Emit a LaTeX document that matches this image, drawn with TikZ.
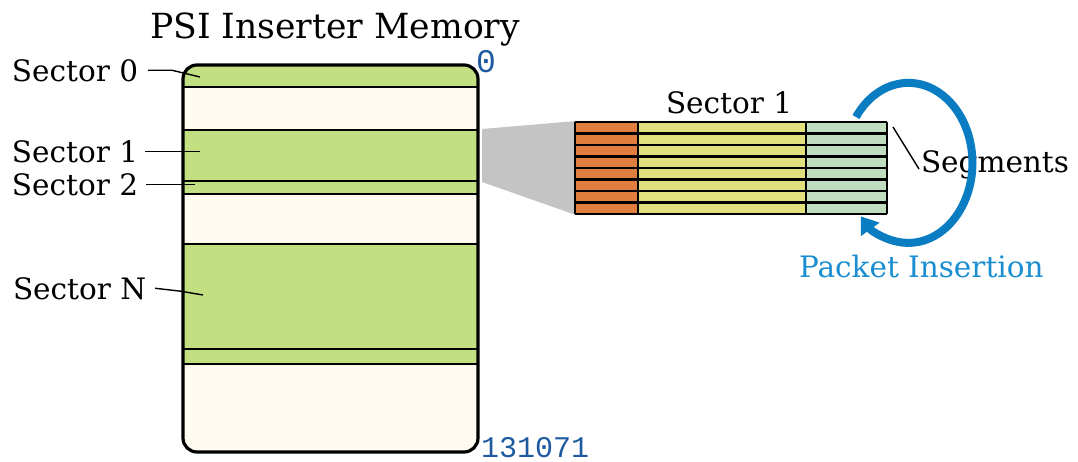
\documentclass[tikz,border=0pt]{standalone}
\usepackage{fontspec}
\setmainfont{DejaVu Serif}
\newfontfamily\monofnt{Liberation Mono}
\usetikzlibrary{arrows.meta}
\definecolor{secgreen}{HTML}{C2DF82}
\definecolor{cream}{HTML}{FFFBF0}
\definecolor{segorange}{HTML}{E07E40}
\definecolor{segyellow}{HTML}{E0E07E}
\definecolor{segmint}{HTML}{C0DDC0}
\definecolor{zoomgray}{HTML}{C4C4C4}
\definecolor{addrblue}{HTML}{1E5AA0}
\definecolor{arcblue}{HTML}{0A7CC2}
\definecolor{insblue}{HTML}{1A8ED0}
\begin{document}
\begin{tikzpicture}[x=1pt,y=-1pt,
  every node/.style={inner sep=0pt,outer sep=0pt},
  lbl/.style={anchor=base west,font=\fontsize{29.5}{31}\selectfont},
  leader/.style={line width=1.4pt},
  membox/.style={line width=3.2pt,rounded corners=14pt},
  sepline/.style={line width=2pt},
  gridline/.style={line width=2.1pt},
  addr/.style={anchor=base west,text=addrblue}]
\useasboundingbox[fill=white] (0,0) rectangle (1078,461);

% title
\node[anchor=base,font=\fontsize{34.6}{37}\selectfont] (title) at (335,38) {PSI Inserter Memory};

% memory box
\begin{scope}
\clip[rounded corners=14pt] (183,65) rectangle (478,452);
\fill[cream] (183,65) rectangle (478,452);
\fill[secgreen] (183,65) rectangle (478,87);
\fill[secgreen] (183,130) rectangle (478,194);
\fill[secgreen] (183,244) rectangle (478,364);
\end{scope}
\foreach \yy in {87,130,181,194,244,349,364} \draw[sepline] (183,\yy) -- (478,\yy);
\draw[membox] (183,65) rectangle (478,452);

% address labels
\node[addr,font=\monofnt\fontsize{33}{36}\selectfont] (a0) at (476,72) {0};
\node[addr,font=\monofnt\fontsize{30}{32}\selectfont] (aN) at (481,457) {131071};

% sector labels and leaders
\node[lbl] (s0) at (12,81) {Sector 0};
\node[lbl] (s1) at (12,162) {Sector 1};
\node[lbl] (s2) at (12,195) {Sector 2};
\node[lbl] (sN) at (13,299) {Sector N};
\coordinate (s0pt) at (200,77);
\coordinate (s1pt) at (200,153);
\coordinate (s2pt) at (195,186);
\coordinate (sNpt) at (203,295);
\draw[leader] ([xshift=10pt]s0.east) -- ++(24,0) -- (s0pt);
\draw[leader] ([xshift=7pt]s1.east) -- (s1.east -| s1pt);
\draw[leader] ([xshift=8pt]s2.east) -- (s2.east -| s2pt);
\draw[leader] ([xshift=9pt]sN.east) -- ++(26,3) -- (sNpt);

% zoom wedge
\fill[zoomgray] (482,129) -- (576,121) -- (576,215) -- (482,182) -- cycle;

% sector detail
\fill[segorange] (575,122) rectangle (638,214);
\fill[segyellow] (638,122) rectangle (806,214);
\fill[segmint] (806,122) rectangle (887,214);
\foreach \i in {0,...,8} {\draw[gridline] (575,{122+11.5*\i}) -- (887,{122+11.5*\i});}
\foreach \xx in {575,638,806,887} \draw[gridline] (\xx,122) -- (\xx,214);
\node[lbl] (s1z) at (666,113) {Sector 1};

% segments label
\node[lbl] (seg) at (921,172) {Segments};
\coordinate (segtip) at (893,127);
\draw[leader] (segtip) -- ([xshift=-2pt,yshift=3pt]seg.base west);

% packet insertion loop
\coordinate (arcstart) at (856,117);
\draw[arcblue,line width=8pt,-{Triangle[length=16pt,width=22pt]}] (arcstart) arc[start angle=-145,end angle=138,x radius=64,y radius=80];
\node[lbl,text=insblue] (pins) at (799,277) {Packet Insertion};
\end{tikzpicture}
\end{document}
